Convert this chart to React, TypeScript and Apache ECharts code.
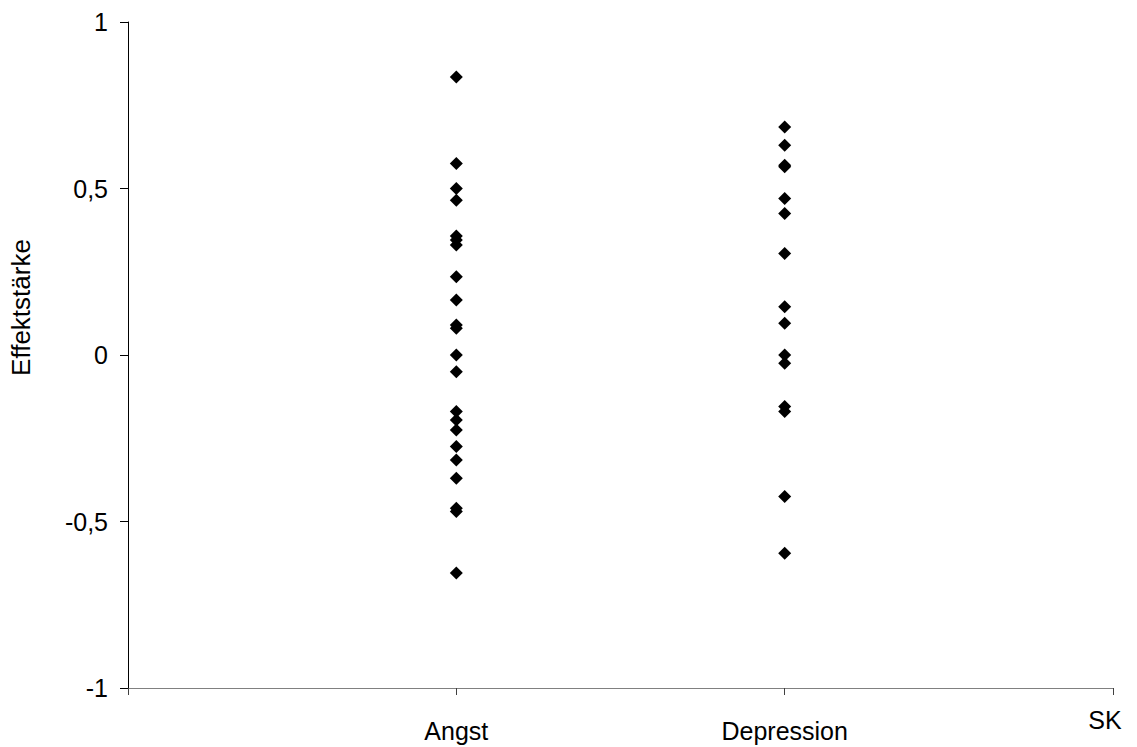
import React, { useEffect, useRef } from "react";
import * as echarts from "echarts";

const categories = ["Angst", "Depression"];
const angstValues = [0.835, 0.575, 0.5, 0.465, 0.357, 0.345, 0.33, 0.235, 0.165, 0.09, 0.08, 0.0, -0.05, -0.17, -0.195, -0.225, -0.275, -0.315, -0.37, -0.46, -0.47, -0.655];
const depressionValues = [0.685, 0.63, 0.57, 0.565, 0.47, 0.425, 0.305, 0.145, 0.095, 0.0, -0.025, -0.155, -0.17, -0.425, -0.595];
const yTicks = [-1, -0.5, 0, 0.5, 1];

export default function App() {
  const ref = useRef<HTMLDivElement>(null);
  useEffect(() => {
    if (!ref.current) return;
    const chart = echarts.init(ref.current, null, { renderer: "svg" });
    const font = "Liberation Sans, Arial, sans-serif";
    const data: number[][] = [];
    angstValues.forEach((v) => data.push([1, v]));
    depressionValues.forEach((v) => data.push([2, v]));
    chart.setOption({
      animation: false,
      backgroundColor: "#ffffff",
      grid: { left: 126, right: 24, top: 22, bottom: 59, containLabel: false },
      xAxis: {
        type: "value",
        min: 0,
        max: 3,
        interval: 1,
        name: "SK",
        nameLocation: "end",
        nameGap: -8,
        nameTextStyle: { color: "#000", fontSize: 25, fontFamily: font, align: "center", verticalAlign: "top", padding: [19, 0, 0, 0] },
        axisLine: { show: true, onZero: false, lineStyle: { color: "#808080", width: 1 } },
        axisTick: { show: true, inside: false, length: 7, lineStyle: { color: "#404040" } },
        axisLabel: {
          show: true,
          margin: 30,
          color: "#000",
          fontSize: 25,
          fontFamily: font,
          formatter: (v: number) => (v >= 1 && v <= categories.length && Number.isInteger(v) ? categories[v - 1] : ""),
        },
        splitLine: { show: false },
      },
      yAxis: {
        type: "value",
        min: yTicks[0],
        max: yTicks[yTicks.length - 1],
        interval: 0.5,
        name: "Effektstärke",
        nameLocation: "middle",
        nameGap: 94,
        nameTextStyle: { color: "#000", fontSize: 26, fontFamily: font, padding: [0, 0, 0, 95] },
        axisLine: { show: true, lineStyle: { color: "#000", width: 1 } },
        axisTick: { show: true, length: 8, lineStyle: { color: "#000" } },
        axisLabel: {
          margin: 20,
          color: "#000",
          fontSize: 25,
          fontFamily: font,
          formatter: (v: number) => String(v).replace(".", ","),
        },
        splitLine: { show: false },
      },
      series: [
        {
          type: "scatter",
          symbol: "diamond",
          symbolSize: 13,
          itemStyle: { color: "#000", opacity: 1 },
          data,
        },
      ],
    });
    return () => chart.dispose();
  }, []);
  return <div ref={ref} style={{ width: 1137, height: 747, position: "absolute", left: 0, top: 0 }} />;
}
